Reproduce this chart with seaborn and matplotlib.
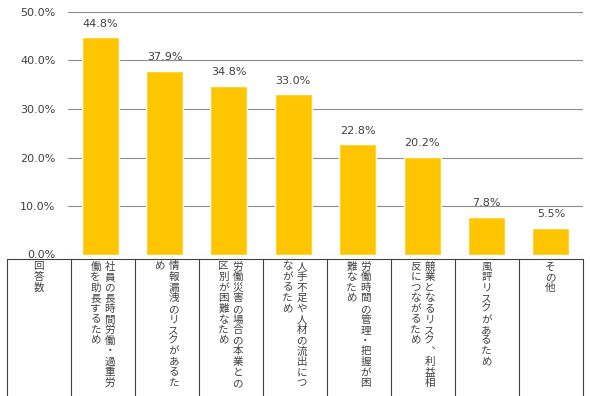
import matplotlib
matplotlib.use('Agg')
import matplotlib.pyplot as plt
from matplotlib.lines import Line2D
import seaborn as sns
import pandas as pd

# data
categories = [
    '社員の長時間労働・過重労働を助長するため',
    '情報漏洩のリスクがあるため',
    '労働災害の場合の本業との区別が困難なため',
    '人手不足や人材の流出につながるため',
    '労働時間の管理・把握が困難なため',
    '競業となるリスク、利益相反につながるため',
    '風評リスクがあるため',
    'その他',
]
shares = [44.8, 37.9, 34.8, 33.0, 22.8, 20.2, 7.8, 5.5]
first_col = '回答数'
y_ticks = [0, 10, 20, 30, 40, 50]

W, H = 590, 396
JP = ['Noto Sans CJK JP', 'DejaVu Sans']
TXT = '#404040'

sns.set_theme(style='white')
plt.rcParams['font.family'] = ['DejaVu Sans', 'Noto Sans CJK JP']

fig = plt.figure(figsize=(W / 100, H / 100), dpi=100)
ax = fig.add_axes([68 / W, (H - 254.5) / H, 515 / W, 242.5 / H])

df = pd.DataFrame({'reason': categories, 'share': shares})
sns.barplot(data=df, x='reason', y='share', color='#FFC600', saturation=1,
            width=0.575, ax=ax)

ax.set_xlim(-0.5, len(categories) - 0.5)
ax.set_ylim(0, 50)
ax.set_yticks(y_ticks)
ax.set_yticklabels([f'{v:.1f}%' for v in y_ticks])
ax.yaxis.grid(True, color='#8c8c8c', lw=0.8)
ax.set_axisbelow(True)
for s in ax.spines.values():
    s.set_visible(False)
ax.tick_params(axis='y', length=0, pad=9, labelsize=8, labelcolor=TXT)
ax.set_xticks([])
ax.set_xlabel('')
ax.set_ylabel('')
ax.bar_label(ax.containers[0], labels=[f'{v:.1f}%' for v in shares],
             padding=6, fontsize=8, color=TXT)


# table below the chart (pixel layout)
def fx(px):
    return px / W


def fy(px):
    return 1 - px / H


lc = '#404040'
left, x0, right = 7, 70.7, 582.5
cell = (right - x0) / len(categories)
top = 259


def vline(px):
    fig.add_artist(Line2D([fx(px)] * 2, [fy(top), 0], color=lc, lw=0.8))


fig.add_artist(Line2D([fx(left), fx(right)], [fy(top)] * 2, color=lc, lw=0.8))
vline(left)
for k in range(len(categories) + 1):
    vline(x0 + k * cell)

vert = {'、': '︑'}
step = 10.6
col_gap = 14


def vtext(xpx, text):
    for k, ch in enumerate(text):
        fig.text(fx(xpx), fy(266.5 + k * step), vert.get(ch, ch),
                 ha='center', va='center', fontsize=7.6, color=TXT, family=JP)


vtext((left + x0) / 2, first_col)
for i, name in enumerate(categories):
    cx = x0 + (i + 0.5) * cell
    cols = [name[j:j + 12] for j in range(0, len(name), 12)]
    n = len(cols)
    for c, col in enumerate(cols):
        vtext(cx + (n - 1) / 2 * col_gap - c * col_gap, col)

fig.savefig('out.png', dpi=100)
